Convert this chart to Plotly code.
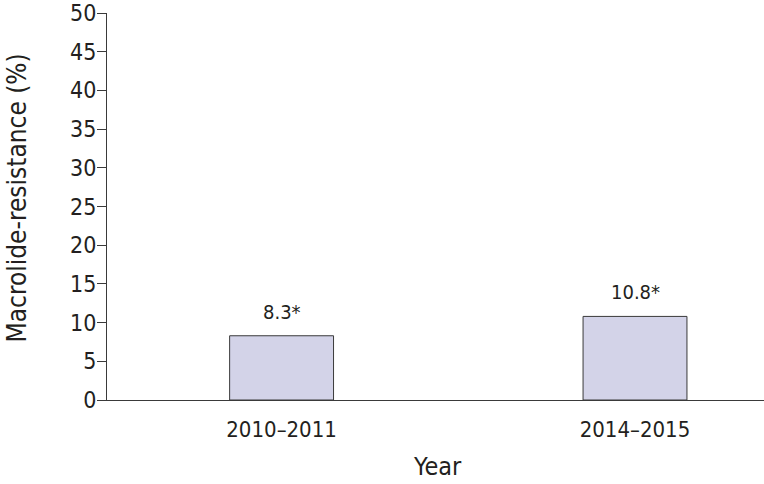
import plotly.graph_objects as go

categories = ["2010\u20132011", "2014\u20132015"]
values = [8.3, 10.8]
labels = ["8.3*", "10.8*"]
y_ticks = [0, 5, 10, 15, 20, 25, 30, 35, 40, 45, 50]

FONT = "DejaVu Sans Condensed, Liberation Sans Narrow, Roboto, sans-serif"
TXT = "#231f20"
xpos = list(range(len(categories)))

fig = go.Figure()
fig.add_trace(go.Bar(
    x=xpos, y=values, width=0.294,
    marker=dict(color="#d3d3e8", line=dict(color="#3a3a3a", width=1)),
    hoverinfo="skip",
))
for xi, v, lab in zip(xpos, values, labels):
    fig.add_annotation(x=xi, y=v, text=lab, showarrow=False, yanchor="bottom",
                       yshift=10, font=dict(family=FONT, size=20, color=TXT))

# axis titles
fig.add_annotation(xref="paper", yref="paper", x=0, y=0.5, text="Macrolide-resistance (%)",
                   textangle=-90, showarrow=False, xanchor="center", yanchor="middle",
                   xshift=-91, yshift=8, font=dict(family=FONT, size=26, color=TXT))
fig.add_annotation(xref="paper", yref="paper", x=0.5, y=0, text="Year",
                   showarrow=False, xanchor="center", yanchor="middle",
                   xshift=2, yshift=-66, font=dict(family=FONT, size=25, color=TXT))

fig.update_layout(
    width=764, height=484,
    margin=dict(l=107, r=0, t=13, b=84),
    paper_bgcolor="white", plot_bgcolor="white",
    showlegend=False,
    font=dict(family=FONT, color=TXT),
)
fig.update_xaxes(
    range=[-0.494, 1.365], automargin=False,
    tickmode="array", tickvals=xpos, ticktext=categories,
    ticks="outside", ticklen=10, tickcolor="rgba(0,0,0,0)",
    ticklabeloverflow="allow",
    showline=True, linecolor="#3a3a3a", linewidth=1,
    showgrid=False, zeroline=False,
    tickfont=dict(family=FONT, size=22, color=TXT),
)
fig.update_yaxes(
    range=[0, 50], automargin=False,
    tickmode="array", tickvals=y_ticks,
    ticks="outside", ticklen=9, tickcolor="#3a3a3a", tickwidth=1,
    ticklabelstandoff=-4, ticklabeloverflow="allow",
    showline=True, linecolor="#3a3a3a", linewidth=1,
    showgrid=False, zeroline=False,
    tickfont=dict(family=FONT, size=23, color=TXT),
)

fig.write_html("out.html", config={"displayModeBar": False},
               post_script="document.body.style.margin='0';")
